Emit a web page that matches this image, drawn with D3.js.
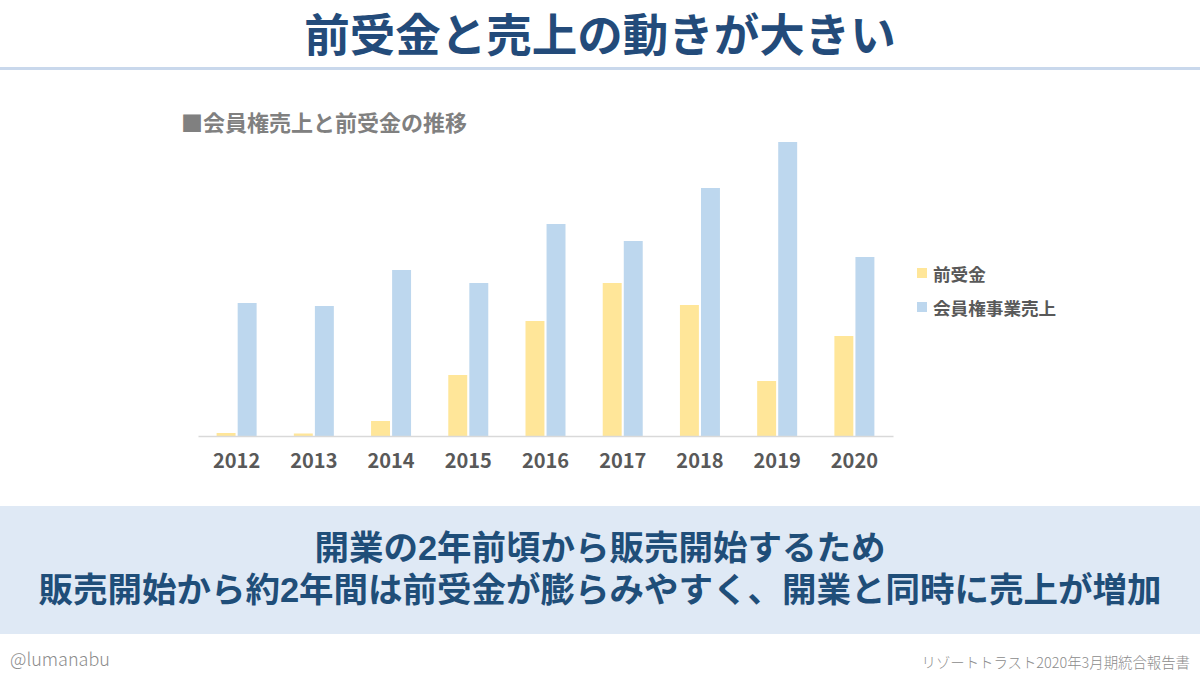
<!DOCTYPE html>
<html><head><meta charset="utf-8">
<script src="https://cdn.jsdelivr.net/npm/d3@7"></script>
<style>html,body{margin:0;padding:0;background:#fff;}svg{display:block;}</style>
</head><body>
<svg id="c" width="1200" height="675"></svg>
<script>
const years = ["2012","2013","2014","2015","2016","2017","2018","2019","2020"];
const seriesNames = ["前受金","会員権事業売上"];
const advanceReceived = [3, 2.5, 15, 61, 115, 153, 131, 55, 100];
const membershipSales = [133, 130, 166, 153, 212, 195, 248, 294, 179];
const colors = ["#FFE699","#BDD7EE"];

const svg = d3.select("#c");
const font = "'Noto Sans CJK JP','Noto Sans',sans-serif";
const msgFont = "'Liberation Sans','Noto Sans CJK JP',sans-serif";

// title
svg.append("text").attr("x",600).attr("y",52).attr("text-anchor","middle")
  .attr("font-family",font).attr("font-weight",700).attr("font-size",45.5)
  .attr("fill","#234b7a").text("前受金と売上の動きが大きい");
svg.append("rect").attr("x",0).attr("y",67).attr("width",1200).attr("height",3).attr("fill","#c9d8ec");

// subtitle
svg.append("text").attr("x",181).attr("y",131)
  .attr("font-family",font).attr("font-weight",700).attr("font-size",22)
  .attr("fill","#808080").text("■会員権売上と前受金の推移");

// scales
const x = d3.scaleBand().domain(years).range([198,893]);
const y = d3.scaleLinear().domain([0,300]).range([436,136]);
const bw = x.bandwidth();
const xs = d3.scaleBand().domain(seriesNames).range([bw/2-20,bw/2+20]).paddingInner(0.1);

const data = years.map((yr,i)=>({year:yr, vals:[advanceReceived[i], membershipSales[i]]}));

const g = svg.append("g");
const grp = g.selectAll("g.yr").data(data).join("g").attr("class","yr")
  .attr("transform",d=>`translate(${x(d.year)},0)`);
grp.selectAll("rect").data(d=>d.vals.map((v,k)=>({k,v}))).join("rect")
  .attr("x",d=>xs(seriesNames[d.k])).attr("width",xs.bandwidth())
  .attr("y",d=>y(d.v)).attr("height",d=>y(0)-y(d.v))
  .attr("fill",d=>colors[d.k]);

// x axis
const ax = svg.append("g").attr("transform",`translate(0,${y(0)})`)
  .call(d3.axisBottom(x).tickSize(0).tickPadding(18));
ax.select(".domain").attr("stroke","#d9d9d9").attr("stroke-width",1.5);
ax.selectAll("text").attr("font-family",font).attr("font-weight",700)
  .attr("font-size",20).attr("fill","#595959");

// legend
const lg = svg.append("g");
seriesNames.forEach((s,i)=>{
  const yy = 273 + i*34;
  lg.append("rect").attr("x",917).attr("y",yy-5).attr("width",10).attr("height",10).attr("fill",colors[i]);
  lg.append("text").attr("x",933).attr("y",yy).attr("dominant-baseline","central")
    .attr("font-family",font).attr("font-weight",700).attr("font-size",17.6)
    .attr("fill","#595959").text(s);
});

// bottom panel
svg.append("rect").attr("x",0).attr("y",506).attr("width",1200).attr("height",128).attr("fill","#dfe9f5");
const lines = ["開業の2年前頃から販売開始するため","販売開始から約2年間は前受金が膨らみやすく、開業と同時に売上が増加"];
lines.forEach((t,i)=>{
  svg.append("text").attr("x",600).attr("y",560+i*42).attr("text-anchor","middle")
    .attr("font-family",msgFont).attr("font-weight",700).attr("font-size",34.5)
    .attr("fill","#1f4e79").text(t);
});

// footer
svg.append("text").attr("x",10).attr("y",658).attr("dominant-baseline","central")
  .attr("font-family",font).attr("font-weight",300).attr("font-size",18)
  .attr("fill","#8c8c8c").text("@lumanabu");
svg.append("text").attr("x",1190).attr("y",661).attr("text-anchor","end").attr("dominant-baseline","central")
  .attr("font-family",font).attr("font-weight",300).attr("font-size",14.4)
  .attr("fill","#8c8c8c").text("リゾートトラスト2020年3月期統合報告書");
</script>
</body></html>
